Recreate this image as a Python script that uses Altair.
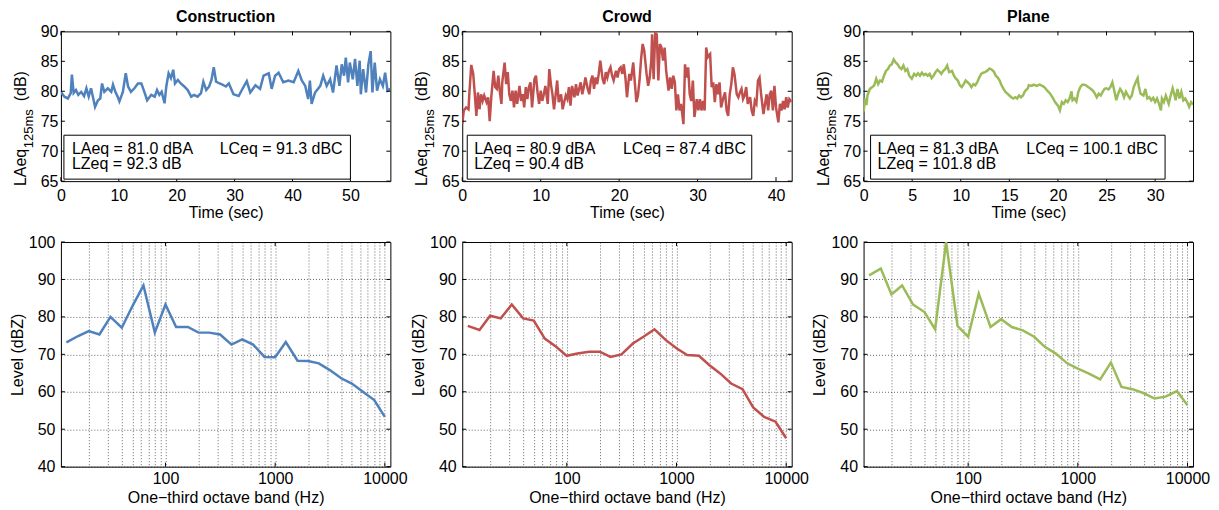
import altair as alt
import pandas as pd

FONT = "Liberation Sans"

# ---------------- time histories (LAeq,125ms in dB) ----------------
construction_time = [
    0.0, 0.6, 1.2, 1.7, 1.9, 2.2, 2.6, 3.0, 3.5, 4.0,
    4.4, 4.8, 5.2, 5.7, 5.9, 6.4, 6.8, 7.1, 7.5, 8.1,
    8.7, 9.0, 9.4, 9.8, 10.1, 10.7, 11.2, 11.6, 12.1, 12.7,
    13.3, 13.9, 14.3, 14.9, 15.6, 16.2, 16.6, 17.0, 17.4, 17.9,
    18.2, 18.6, 19.0, 19.4, 19.7, 20.2, 20.7, 21.3, 21.9, 22.5,
    23.0, 23.6, 24.2, 24.6, 25.1, 25.6, 26.0, 26.4, 26.8, 27.4,
    27.9, 28.5, 29.0, 29.8, 30.7, 31.3, 32.1, 32.7, 33.6, 34.4,
    35.0, 35.9, 36.4, 37.0, 37.6, 38.4, 39.3, 40.2, 41.0, 41.6,
    42.2, 42.7, 43.0, 43.3, 43.9, 44.8, 45.3, 45.9, 46.5, 47.0,
    47.6, 48.1, 48.5, 48.9, 49.2, 49.6, 49.9, 50.4, 50.8, 51.2,
    51.6, 51.8, 52.2, 52.7, 53.1, 53.5, 53.8, 54.2, 54.6, 55.1,
    55.6, 56.0, 56.4, 56.9,
]
construction_laeq = [
    79.9, 79.1, 78.8, 79.7, 82.8, 79.7, 80.2, 79.4, 79.9, 79.2,
    80.5, 79.1, 80.5, 78.3, 77.4, 78.5, 78.8, 81.3, 79.9, 80.5,
    79.9, 81.1, 79.9, 79.1, 78.3, 79.9, 83.0, 80.8, 79.9, 80.5,
    81.3, 81.3, 80.2, 78.5, 79.4, 79.1, 80.2, 79.4, 79.9, 78.0,
    80.8, 83.0, 82.2, 83.6, 81.3, 81.9, 81.3, 80.8, 80.2, 79.1,
    79.4, 79.1, 79.7, 81.6, 80.2, 80.8, 81.9, 84.0, 81.6, 81.3,
    81.1, 80.8, 81.3, 79.5, 79.2, 80.3, 81.7, 79.8, 81.0, 80.4,
    82.6, 83.0, 80.4, 82.6, 83.1, 81.5, 81.8, 81.5, 83.4, 81.8,
    80.9, 78.7, 81.8, 77.9, 79.8, 80.9, 82.6, 80.9, 82.0, 79.8,
    84.3, 80.9, 84.5, 82.6, 85.6, 81.5, 84.8, 82.0, 85.4, 80.9,
    85.1, 79.5, 83.7, 79.8, 84.5, 86.7, 79.8, 84.8, 80.1, 82.0,
    80.9, 83.1, 80.1, 80.4,
]

crowd_time = [
    0.0, 0.2, 0.5, 0.8, 0.9, 1.15, 1.4, 1.6, 1.8, 2.0,
    2.2, 2.4, 2.6, 2.8, 3.1, 3.3, 3.5, 3.7, 4.0, 4.2,
    4.4, 4.6, 4.8, 5.0, 5.1, 5.4, 5.6, 5.8, 6.0, 6.2,
    6.4, 6.6, 6.8, 7.0, 7.3, 7.5, 7.7, 7.9, 8.1, 8.3,
    8.5, 8.7, 8.9, 9.2, 9.4, 9.6, 9.8, 10.0, 10.2, 10.4,
    10.6, 10.9, 11.1, 11.3, 11.5, 11.7, 11.9, 12.1, 12.3, 12.6,
    12.8, 13.0, 13.2, 13.4, 13.6, 13.8, 14.0, 14.3, 14.5, 14.7,
    14.9, 15.1, 15.3, 15.5, 15.7, 16.0, 16.2, 16.4, 16.6, 16.8,
    17.0, 17.2, 17.4, 17.6, 17.9, 18.1, 18.3, 18.5, 18.7, 18.9,
    19.1, 19.3, 19.6, 19.8, 20.0, 20.2, 20.4, 20.6, 20.8, 21.0,
    21.3, 21.5, 21.8, 22.0, 22.2, 22.4, 22.6, 22.8, 23.0, 23.2,
    23.5, 23.7, 23.9, 24.1, 24.2, 24.4, 24.6, 24.8, 25.0, 25.2,
    25.4, 25.6, 25.8, 26.0, 26.3, 26.5, 26.7, 26.9, 27.1, 27.3,
    27.5, 27.7, 27.9, 28.2, 28.4, 28.6, 28.8, 29.0, 29.2, 29.4,
    29.6, 29.9, 30.1, 30.3, 30.5, 30.7, 30.9, 31.1, 31.3, 31.6,
    31.8, 32.0, 32.2, 32.4, 32.6, 32.8, 33.0, 33.3, 33.5, 33.7,
    33.9, 34.1, 34.3, 34.5, 34.7, 35.0, 35.2, 35.4, 35.6, 35.8,
    36.0, 36.2, 36.4, 36.7, 36.9, 37.1, 37.3, 37.5, 37.7, 37.9,
    38.1, 38.4, 38.6, 38.8, 39.0, 39.2, 39.4, 39.6, 39.8, 40.0,
    40.3, 40.5, 40.7, 40.9, 41.1, 41.3, 41.5, 41.7, 42.0,
]
crowd_laeq = [
    74.5, 76.8, 77.3, 77.0, 79.5, 84.4, 82.9, 79.5, 75.9, 79.8,
    77.0, 79.5, 78.4, 79.3, 78.2, 79.0, 75.0, 79.0, 83.4, 80.7,
    80.4, 82.6, 79.8, 77.9, 81.5, 84.8, 81.2, 83.2, 79.5, 78.4,
    80.1, 77.3, 80.1, 77.9, 80.9, 78.4, 79.5, 77.3, 80.7, 78.7,
    80.7, 81.5, 77.3, 82.0, 82.6, 79.8, 77.9, 80.1, 78.4, 79.5,
    80.9, 77.9, 83.7, 81.2, 79.5, 77.0, 79.3, 81.8, 78.2, 79.5,
    77.0, 78.2, 79.3, 78.7, 80.7, 77.6, 80.9, 79.0, 81.2, 79.3,
    80.4, 81.5, 79.5, 80.7, 82.3, 80.4, 79.5, 81.8, 82.6, 80.4,
    82.3, 81.2, 82.9, 85.1, 82.0, 81.2, 83.2, 82.3, 83.4, 84.0,
    82.6, 81.8, 83.4, 82.3, 83.7, 84.0, 82.9, 84.5, 82.3, 79.0,
    82.9, 81.8, 84.8, 81.5, 78.2, 79.3, 81.8, 85.4, 87.9, 86.8,
    82.9, 80.9, 82.3, 85.1, 89.5, 82.0, 89.8, 89.5, 81.8, 87.9,
    87.3, 85.1, 87.3, 83.4, 80.1, 82.3, 80.4, 82.6, 81.5, 76.8,
    79.5, 76.8, 77.9, 74.5, 84.5, 82.3, 84.0, 79.5, 78.4, 81.8,
    75.7, 78.7, 76.8, 78.7, 76.8, 78.4, 76.8, 87.3, 85.7, 86.2,
    80.7, 81.5, 78.2, 81.2, 79.5, 81.5, 77.3, 79.0, 79.8, 76.8,
    75.9, 79.5, 81.2, 84.0, 82.9, 79.5, 79.0, 79.8, 80.4, 78.7,
    79.3, 80.7, 77.9, 79.0, 76.8, 75.9, 78.4, 77.9, 81.8, 82.3,
    79.5, 76.2, 77.9, 79.5, 76.8, 79.5, 80.1, 76.8, 80.9, 77.3,
    74.8, 77.9, 76.8, 78.4, 77.0, 79.0, 77.3, 78.7, 78.2,
]

plane_time = [
    0.0, 0.17, 0.3, 0.4, 0.65, 0.9, 1.1, 1.3, 1.5, 1.7,
    1.9, 2.1, 2.3, 2.5, 2.7, 2.9, 3.1, 3.3, 3.5, 3.7,
    3.9, 4.1, 4.3, 4.5, 4.7, 4.96, 5.2, 5.4, 5.6, 5.8,
    6.0, 6.2, 6.4, 6.6, 6.8, 7.0, 7.2, 7.4, 7.6, 7.8,
    8.0, 8.2, 8.4, 8.6, 8.8, 9.1, 9.3, 9.5, 9.7, 9.9,
    10.1, 10.3, 10.5, 10.7, 10.9, 11.1, 11.3, 11.5, 11.7, 11.9,
    12.1, 12.3, 12.5, 12.7, 12.96, 13.2, 13.4, 13.6, 13.8, 14.0,
    14.2, 14.4, 14.6, 14.8, 15.0, 15.2, 15.4, 15.6, 15.8, 16.0,
    16.2, 16.4, 16.6, 16.9, 17.0, 17.3, 17.5, 17.8, 18.1, 18.4,
    18.6, 18.9, 19.2, 19.5, 19.7, 20.0, 20.2, 20.4, 20.6, 20.8,
    21.0, 21.2, 21.4, 21.5, 21.7, 21.9, 22.1, 22.3, 22.5, 22.7,
    22.9, 23.1, 23.3, 23.6, 23.8, 24.0, 24.2, 24.4, 24.6, 24.8,
    25.0, 25.2, 25.4, 25.6, 25.8, 26.0, 26.2, 26.4, 26.6, 26.8,
    27.0, 27.2, 27.4, 27.6, 27.8, 28.0, 28.2, 28.3, 28.5, 28.8,
    29.0, 29.2, 29.4, 29.6, 29.8, 30.0, 30.2, 30.4, 30.6, 30.7,
    30.9, 31.1, 31.4, 31.6, 31.8, 32.0, 32.1, 32.3, 32.5, 32.7,
    32.9, 33.1, 33.3, 33.5, 33.7, 33.9,
]
plane_laeq = [
    76.6, 78.8, 77.7, 79.3, 80.4, 80.7, 81.0, 82.1, 81.2, 81.8,
    81.6, 82.6, 83.4, 83.7, 84.3, 84.5, 85.3, 84.8, 84.5, 84.0,
    83.7, 84.3, 83.4, 83.7, 82.6, 82.1, 82.9, 82.6, 83.0, 82.6,
    83.1, 82.7, 82.9, 82.6, 82.9, 82.2, 82.6, 83.2, 83.6, 83.3,
    82.9, 83.4, 83.7, 84.3, 83.2, 83.4, 82.6, 82.1, 81.8, 81.0,
    80.7, 81.2, 81.8, 81.5, 81.2, 80.7, 81.2, 81.0, 81.5, 82.3,
    82.9, 83.1, 83.2, 83.4, 83.8, 83.6, 83.3, 82.6, 82.3, 81.8,
    81.0, 80.4, 79.9, 79.6, 79.3, 79.0, 78.8, 79.0, 78.8, 79.3,
    79.0, 79.3, 80.0, 80.5, 81.0, 80.9, 81.1, 80.9, 81.1, 80.9,
    80.7, 80.1, 79.6, 78.8, 78.2, 77.6, 76.8, 78.2, 77.9, 78.5,
    78.2, 78.8, 80.0, 78.5, 78.8, 78.3, 79.9, 80.7, 81.1, 81.1,
    81.0, 80.7, 80.5, 80.1, 79.6, 79.0, 79.6, 79.3, 79.9, 80.4,
    80.5, 80.3, 80.7, 81.5, 80.1, 78.5, 79.6, 80.4, 79.9, 79.0,
    79.9, 79.3, 78.8, 79.3, 80.7, 81.5, 82.2, 81.0, 79.6, 79.3,
    80.4, 78.8, 79.0, 78.5, 78.9, 78.2, 78.8, 77.9, 76.8, 78.8,
    78.2, 79.3, 77.9, 79.3, 80.5, 79.3, 78.5, 80.4, 78.8, 79.9,
    78.5, 78.8, 78.2, 77.4, 78.2, 77.8,
]

# ---------------- one-third octave spectra (dBZ) ----------------
bands_hz = [12.5, 16, 20, 25, 31.5, 40, 50, 63, 80, 100,
            125, 160, 200, 250, 315, 400, 500, 630, 800, 1000,
            1250, 1600, 2000, 2500, 3150, 4000, 5000, 6300, 8000, 10000]
construction_spectrum = [73.2, 74.9, 76.2, 75.3, 80.0, 77.1, 82.9, 88.4, 75.8, 83.3,
                         77.3, 77.3, 75.8, 75.8, 75.3, 72.6, 74.0, 72.6, 69.3, 69.2,
                         73.3, 68.3, 68.2, 67.6, 65.8, 63.6, 62.2, 60.0, 57.8, 53.3]
crowd_spectrum = [77.6, 76.5, 80.3, 79.6, 83.3, 79.6, 79.0, 74.2, 72.0, 69.6,
                  70.2, 70.7, 70.7, 69.3, 70.0, 72.9, 74.7, 76.7, 73.8, 71.6,
                  69.8, 69.6, 67.1, 64.9, 62.2, 60.7, 55.8, 53.3, 52.0, 47.6]
plane_spectrum = [91.1, 92.9, 86.0, 88.4, 83.3, 81.3, 76.7, 100.0, 77.6, 74.7,
                  86.2, 77.3, 79.4, 77.3, 76.4, 74.7, 72.0, 70.2, 67.6, 66.2,
                  64.9, 63.3, 67.8, 61.3, 60.7, 59.6, 58.2, 58.7, 60.2, 56.4]

# ---------------- labels / ticks ----------------
panel_names = ["Construction", "Crowd", "Plane"]
laeq_labels = ["LAeq = 81.0 dBA", "LAeq = 80.9 dBA", "LAeq = 81.3 dBA"]
lceq_labels = ["LCeq = 91.3 dBC", "LCeq = 87.4 dBC", "LCeq = 100.1 dBC"]
lzeq_labels = ["LZeq = 92.3 dB", "LZeq = 90.4 dB", "LZeq = 101.8 dB"]
time_max = [56.9, 42.0, 33.9]
time_ticks = [[0, 10, 20, 30, 40, 50], [0, 10, 20, 30, 40], [0, 5, 10, 15, 20, 25, 30]]
laeq_ticks = [65, 70, 75, 80, 85, 90]
level_ticks = [40, 50, 60, 70, 80, 90, 100]
band_grid = [20, 30, 40, 50, 60, 70, 80, 90, 100, 200, 300, 400, 500, 600, 700, 800, 900,
             1000, 2000, 3000, 4000, 5000, 6000, 7000, 8000, 9000, 10000]
band_major = [100, 1000, 10000]

times = [construction_time, crowd_time, plane_time]
levels = [construction_laeq, crowd_laeq, plane_laeq]
spectra = [construction_spectrum, crowd_spectrum, plane_spectrum]

# ---------------- styling ----------------
colors = ["#4F81BD", "#C0504D", "#9BBB59"]
W, HT, HB = 330, 150, 225
box_x = [(3, 290), (5, 290), (7, 302)]
text_x = [(11, 159), (12, 161), (14, 163)]
FS = 16


def one(text):
    return pd.DataFrame({"s": [text]})


def label(text, x, y, size=FS, align="left", angle=0):
    return alt.Chart(one(text)).mark_text(
        align=align, baseline="middle", fontSize=size, font=FONT, color="black", angle=angle
    ).encode(text="s:N", x=alt.value(x), y=alt.value(y))


def top_panel(i):
    df = pd.DataFrame({"t": times[i], "v": levels[i]})
    xenc = alt.X("t:Q", scale=alt.Scale(domain=[0, time_max[i]], nice=False, zero=False),
                 axis=alt.Axis(values=time_ticks[i], title="Time (sec)", ticks=False, domain=False,
                               grid=False, labelPadding=6, titlePadding=1, labelFlush=False))
    yenc = alt.Y("v:Q", scale=alt.Scale(domain=[65, 90], nice=False, zero=False),
                 axis=alt.Axis(values=laeq_ticks, title=None, ticks=False, domain=False,
                               grid=False, labelPadding=3))
    line = alt.Chart(df).mark_line(color=colors[i], strokeWidth=2.5, clip=True).encode(x=xenc, y=yenc)
    ydf = pd.DataFrame({"v": laeq_ticks})
    xdf = pd.DataFrame({"t": time_ticks[i]})
    tk = dict(color="black", strokeWidth=1)
    t1 = alt.Chart(ydf).mark_rule(**tk).encode(y=yenc, x=alt.value(0), x2=alt.value(4))
    t2 = alt.Chart(ydf).mark_rule(**tk).encode(y=yenc, x=alt.value(W - 4), x2=alt.value(W))
    t3 = alt.Chart(xdf).mark_rule(**tk).encode(x=xenc, y=alt.value(HT - 4), y2=alt.value(HT))
    t4 = alt.Chart(xdf).mark_rule(**tk).encode(x=xenc, y=alt.value(0), y2=alt.value(4))
    box = alt.Chart(one("box")).mark_rect(fill="white", stroke="black", strokeWidth=1).encode(
        x=alt.value(box_x[i][0]), x2=alt.value(box_x[i][1]), y=alt.value(104), y2=alt.value(148))
    l1 = label(laeq_labels[i], text_x[i][0], 118)
    l2 = label(lceq_labels[i], text_x[i][1], 118)
    l3 = label(lzeq_labels[i], text_x[i][0], 133)
    # y-axis title with subscript
    y1 = label("LAeq", -40, 155, size=FS, angle=270)
    y2 = label("125ms", -32, 117, size=13, angle=270)
    y3 = label("(dB)", -40, 70, size=FS, angle=270)
    return alt.layer(line, t1, t2, t3, t4, box, l1, l2, l3, y1, y2, y3).properties(
        width=W, height=HT,
        title=alt.TitleParams(panel_names[i], fontSize=FS, fontWeight="bold", font=FONT,
                              anchor="middle", frame="group", offset=-2, color="black"))


def bottom_panel(i):
    df = pd.DataFrame({"f": bands_hz, "L": spectra[i]})
    grid = dict(grid=True, gridDash=[1, 2], gridColor="#000000", gridOpacity=0.6, gridWidth=1)
    xenc = alt.X("f:Q", scale=alt.Scale(type="log", domain=[11.14, 11225], nice=False),
                 axis=alt.Axis(values=band_grid, format="d",
                               labelExpr="(datum.value == 100 || datum.value == 1000 || datum.value == 10000) ? datum.label : ''",
                               title="One\u2212third octave band (Hz)", ticks=False, domain=False,
                               labelPadding=4, titlePadding=3, labelFlush=False, labelOverlap=False, **grid))
    yenc = alt.Y("L:Q", scale=alt.Scale(domain=[40, 100], nice=False, zero=False),
                 axis=alt.Axis(values=level_ticks, title="Level (dBZ)", ticks=False, domain=False,
                               labelPadding=6, titlePadding=3, **grid))
    line = alt.Chart(df).mark_line(color=colors[i], strokeWidth=2.5, clip=True).encode(x=xenc, y=yenc)
    ydf = pd.DataFrame({"L": level_ticks})
    xdf = pd.DataFrame({"f": band_major})
    tk = dict(color="black", strokeWidth=1)
    t1 = alt.Chart(ydf).mark_rule(**tk).encode(y=yenc, x=alt.value(0), x2=alt.value(4))
    t2 = alt.Chart(ydf).mark_rule(**tk).encode(y=yenc, x=alt.value(W - 4), x2=alt.value(W))
    t3 = alt.Chart(xdf).mark_rule(**tk).encode(x=xenc, y=alt.value(HB - 4), y2=alt.value(HB))
    t4 = alt.Chart(xdf).mark_rule(**tk).encode(x=xenc, y=alt.value(0), y2=alt.value(4))
    return alt.layer(line, t1, t2, t3, t4).properties(width=W, height=HB)


panels = [top_panel(i) for i in range(3)] + [bottom_panel(i) for i in range(3)]

chart = alt.concat(*panels, columns=3, spacing={"row": 61, "column": 72}, bounds="flush").properties(
    padding={"left": 0, "top": 0, "right": 0, "bottom": 0},
    background="white",
).configure_view(stroke="black", strokeWidth=1).configure_axis(
    labelFont=FONT, titleFont=FONT, labelFontSize=FS, titleFontSize=FS,
    labelColor="black", titleColor="black", titleFontWeight="normal",
)

chart.save("out.html", embed_options={"renderer": "svg", "actions": False})
